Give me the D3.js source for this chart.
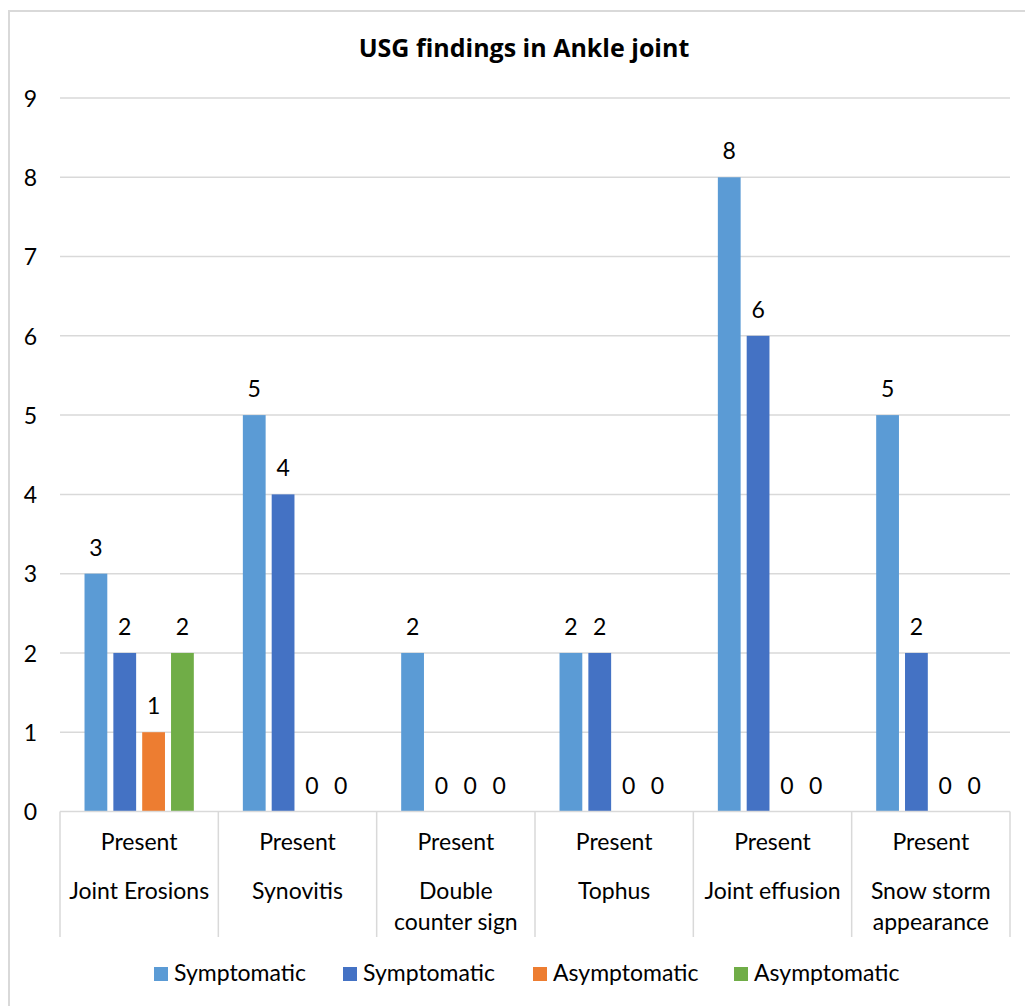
<!DOCTYPE html>
<html>
<head>
<meta charset="utf-8">
<script src="https://cdn.jsdelivr.net/npm/d3@7"></script>
<style>
  html, body { margin: 0; padding: 0; background: #fff; }
  svg { display: block; }
  text { font-family: Lato, "Open Sans", "Noto Sans", sans-serif; fill: #000; }
</style>
</head>
<body>
<svg id="chart" width="1025" height="1006"></svg>
<script>
// Findings per joint category; "\n" marks a line break in the axis label
const categories = ["Joint Erosions", "Synovitis", "Double\ncounter sign", "Tophus", "Joint effusion", "Snow storm\nappearance"];
const subLabel = "Present";
const seriesNames = ["Symptomatic", "Symptomatic", "Asymptomatic", "Asymptomatic"];
const seriesColors = ["#5B9BD5", "#4472C4", "#ED7D31", "#70AD47"];
const symptomaticA = [3, 5, 2, 2, 8, 5];
const symptomaticB = [2, 4, 0, 2, 6, 2];
const asymptomaticA = [1, 0, 0, 0, 0, 0];
const asymptomaticB = [2, 0, 0, 0, 0, 0];
const yTicks = [0, 1, 2, 3, 4, 5, 6, 7, 8, 9];
const title = "USG findings in Ankle joint";

const seriesValues = [symptomaticA, symptomaticB, asymptomaticA, asymptomaticB];

const svg = d3.select("#chart");
const plot = { left: 60, right: 1010, top: 98, bottom: 811.5 };
const fontSize = "23px";

// chart frame
svg.append("rect")
  .attr("x", 9).attr("y", 11)
  .attr("width", 1100).attr("height", 1100)
  .attr("fill", "none").attr("stroke", "#D9D9D9").attr("stroke-width", 2);

// title
svg.append("text")
  .attr("x", 524).attr("y", 57)
  .attr("text-anchor", "middle")
  .style("font-family", "'Open Sans', Lato, sans-serif")
  .style("font-size", "25px").style("font-weight", "bold")
  .text(title);

const y = d3.scaleLinear().domain([0, 9]).range([plot.bottom, plot.top]);
const x0 = d3.scaleBand().domain(d3.range(categories.length)).range([plot.left, plot.right]).padding(0);
const x1 = d3.scaleBand().domain(d3.range(seriesValues.length)).range([0, x0.bandwidth()])
  .paddingInner(0.21).paddingOuter(0.85);

// gridlines
svg.append("g")
  .selectAll("line").data(yTicks.filter(t => t > 0)).join("line")
  .attr("x1", plot.left).attr("x2", plot.right)
  .attr("y1", d => y(d)).attr("y2", d => y(d))
  .attr("stroke", "#D9D9D9").attr("stroke-width", 1.5);

// y axis labels
const yAxis = d3.axisLeft(y).tickValues(yTicks).tickSize(0).tickPadding(0);
const yg = svg.append("g").attr("transform", `translate(37,0)`).call(yAxis);
yg.select(".domain").remove();
yg.selectAll("text")
  .style("font-family", "Lato, sans-serif")
  .style("font-size", fontSize).attr("fill", "#000").attr("dy", "0.36em");

// bars and value labels
const groups = svg.append("g").selectAll("g").data(categories).join("g")
  .attr("transform", (d, i) => `translate(${x0(i)},0)`);

groups.each(function (cat, ci) {
  const g = d3.select(this);
  const vals = seriesValues.map((s, si) => ({ si, v: s[ci] }));
  g.selectAll("rect").data(vals.filter(d => d.v > 0)).join("rect")
    .attr("x", d => x1(d.si))
    .attr("width", x1.bandwidth())
    .attr("y", d => y(d.v))
    .attr("height", d => y(0) - y(d.v))
    .attr("fill", d => seriesColors[d.si]);
  g.selectAll("text.val").data(vals).join("text")
    .attr("class", "val")
    .attr("x", d => x1(d.si) + x1.bandwidth() / 2)
    .attr("y", d => y(d.v) - 18)
    .attr("text-anchor", "middle")
    .style("font-size", fontSize)
    .text(d => d.v);
});

// category axis
const axisBottom = 937;
svg.append("line")
  .attr("x1", plot.left).attr("x2", plot.right)
  .attr("y1", plot.bottom).attr("y2", plot.bottom)
  .attr("stroke", "#D9D9D9").attr("stroke-width", 1.5);
const bounds = d3.range(categories.length + 1).map(i => i < categories.length ? x0(i) : plot.right);
svg.append("g").selectAll("line").data(bounds).join("line")
  .attr("x1", d => d).attr("x2", d => d)
  .attr("y1", plot.bottom).attr("y2", axisBottom)
  .attr("stroke", "#D9D9D9").attr("stroke-width", 1.5);

const catG = svg.append("g").selectAll("g").data(categories).join("g")
  .attr("transform", (d, i) => `translate(${x0(i) + x0.bandwidth() / 2},0)`);
catG.append("text")
  .attr("y", 850).attr("text-anchor", "middle")
  .style("font-size", fontSize)
  .text(subLabel);
catG.append("text")
  .attr("text-anchor", "middle")
  .style("font-size", fontSize)
  .selectAll("tspan").data(d => d.split("\n")).join("tspan")
  .attr("x", 0)
  .attr("y", (d, i) => 899 + i * 31)
  .text(d => d);

// legend
const legendX = [154, 343, 533, 734];
const legend = svg.append("g").selectAll("g").data(seriesNames).join("g")
  .attr("transform", (d, i) => `translate(${legendX[i]},967)`);
legend.append("rect")
  .attr("width", 14).attr("height", 14)
  .attr("fill", (d, i) => seriesColors[i]);
legend.append("text")
  .attr("x", 20).attr("y", 14)
  .style("font-size", fontSize)
  .text(d => d);
</script>
</body>
</html>
